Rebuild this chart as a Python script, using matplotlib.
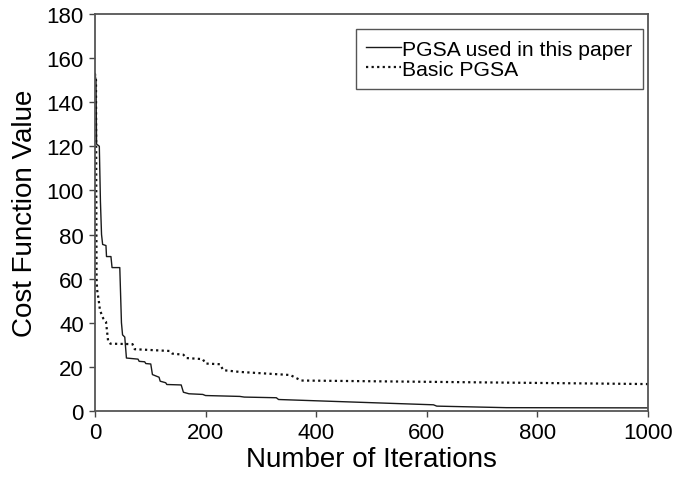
"""Cost function value vs. iterations for the two PGSA variants."""

import matplotlib

matplotlib.use("Agg")
import matplotlib.pyplot as plt

plt.rcParams["font.family"] = ["Liberation Sans", "DejaVu Sans"]

# values
pgsa_iter = [0, 2, 3, 8, 10, 12, 14, 20, 21, 29, 31, 45, 48, 50, 54, 57, 78, 80,
             90, 92, 101, 104, 116, 118, 128, 130, 156, 160, 170, 195, 200, 262,
             270, 328, 332, 612, 618, 744, 1000]
pgsa_cost = [153, 150, 121, 120, 95, 80, 75.5, 75, 70, 70, 65, 65, 40, 34.5,
             33.5, 24, 23.5, 22.5, 22.3, 21.5, 21.3, 16.5, 15.3, 13.5, 12.8, 12,
             11.8, 8.5, 7.8, 7.5, 7, 6.6, 6.3, 6, 5.2, 2.8, 2.2, 1.5, 1.4]

basic_iter = [0, 2, 2.5, 3, 4, 7, 9, 11, 15, 20, 22, 24, 28, 68, 72, 135, 140,
              160, 165, 195, 200, 226, 232, 262, 353, 373, 1000]
basic_cost = [153, 150, 100, 60, 55, 50, 46, 44.5, 42, 40.5, 36, 31.5, 30.5,
              30.3, 28, 27.2, 26, 25.5, 24, 23.5, 21.5, 21.2, 18.5, 17.7, 16.3,
              13.8, 12.2]

x_ticks = [0, 200, 400, 600, 800, 1000]
y_ticks = [0, 20, 40, 60, 80, 100, 120, 140, 160, 180]


def main() -> None:
    fig = plt.figure(figsize=(6.73, 4.81), dpi=100)
    ax = fig.add_axes([0.141, 0.1435, 0.822, 0.8255])

    ax.plot(pgsa_iter, pgsa_cost, color="#1a1a1a", linewidth=1.0,
            label="PGSA used in this paper")
    ax.plot(basic_iter, basic_cost, color="#111111", linewidth=1.6,
            linestyle=(0, (1, 1.5)), dash_capstyle="butt",
            label="Basic PGSA")

    ax.set_xlim(0, 1000)
    ax.set_ylim(0, 180)
    ax.set_xticks(x_ticks)
    ax.set_yticks(y_ticks)
    ax.tick_params(labelsize=16, length=4, width=1.0, color="#444444", pad=4)
    for spine in ax.spines.values():
        spine.set_color("#555555")
        spine.set_linewidth(1.3)

    ax.set_xlabel("Number of Iterations", fontsize=20, labelpad=2)
    ax.set_ylabel("Cost Function Value", fontsize=20, labelpad=6)

    leg = ax.legend(
        loc="upper right",
        bbox_to_anchor=(0.991, 0.962),
        fontsize=15.2,
        fancybox=False,
        framealpha=1,
        edgecolor="#555555",
        borderaxespad=0,
        handlelength=1.65,
        handletextpad=0.05,
        labelspacing=0.05,
        borderpad=0.5,
    )
    leg.get_frame().set_linewidth(1.0)

    fig.savefig("out.png", dpi=100)
    plt.close(fig)


if __name__ == "__main__":
    main()
